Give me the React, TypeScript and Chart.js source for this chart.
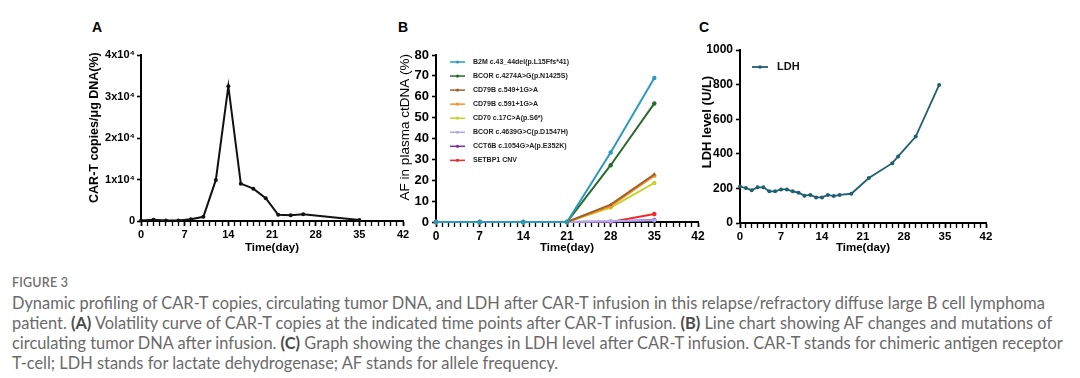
import React, { useEffect, useRef } from 'react';
import { Chart, registerables } from 'chart.js';

Chart.register(...registerables);

const SANS = '"Liberation Sans", Arial, Helvetica, sans-serif';

// ---------- shared axis data ----------
const dayMax = 42;
const dayStep = 7;

// ---------- Panel A: CAR-T copies ----------
const carDays = [0, 2, 4, 6, 8, 10, 12, 14, 16, 18, 20, 22, 24, 26, 35];
const carCopies = [100, 300, 150, 100, 400, 1000, 9900, 32500, 9000, 7800, 5500, 1500, 1400, 1600, 250];
const carTickValues = [0, 10000, 20000, 30000, 40000];
const carTickLabels = ['0', '1x10⁴', '2x10⁴', '3x10⁴', '4x10⁴'];

// ---------- Panel B: AF in plasma ctDNA ----------
const afDays = [0, 7, 14, 21, 28, 35];
const mutationNames = [
  'B2M c.43_44del(p.L15Ffs*41)',
  'BCOR c.4274A>G(p.N1425S)',
  'CD79B c.549+1G>A',
  'CD79B c.591+1G>A',
  'CD70 c.17C>A(p.S6*)',
  'BCOR c.4639G>C(p.D1547H)',
  'CCT6B c.1054G>A(p.E352K)',
  'SETBP1 CNV',
];
const afB2M = [0, 0, 0, 0, 33.3, 69.0];
const afBCOR4274 = [0, 0, 0, 0, 27.2, 56.8];
const afCD79B549 = [0, 0, 0, 0, 8.3, 22.9];
const afCD79B591 = [0, 0, 0, 0, 7.6, 22.2];
const afCD70 = [0, 0, 0, 0, 6.9, 18.7];
const afBCOR4639 = [0, 0, 0, 0, 0.3, 0.8];
const afCCT6B = [0, 0, 0, 0, 0.2, 1.0];
const afSETBP1 = [0, 0, 0, 0, 0, 3.8];
const mutationColors = ['#2b9ac0', '#2a6a2a', '#a0612a', '#f3922e', '#c9d12f', '#b0a8ec', '#7b2fa6', '#ee2a2a'];
const mutationStyles = ['circle', 'circle', 'triangle', 'circle', 'circle', 'circle', 'circle', 'star'];

// ---------- Panel C: LDH ----------
const ldhDays = [0, 1, 2, 3, 4, 5, 6, 7, 8, 9, 10, 11, 12, 13, 14, 15, 16, 17, 19, 22, 26, 27, 30, 34];
const ldhValues = [211, 202, 190, 206, 206, 183, 183, 194, 194, 183, 175, 158, 162, 148, 148, 162, 156, 162, 169, 260, 346, 385, 500, 798];
const ldhColor = '#1f6070';

// ---------- caption ----------
const figureLabel = 'FIGURE 3';
const captionLines: Array<Array<[string, boolean]>> = [
  [['Dynamic profiling of CAR-T copies, circulating tumor DNA, and LDH after CAR-T infusion in this relapse/refractory diffuse large B cell lymphoma', false]],
  [['patient. ', false], ['(A)', true], [' Volatility curve of CAR-T copies at the indicated time points after CAR-T infusion. ', false], ['(B)', true], [' Line chart showing AF changes and mutations of', false]],
  [['circulating tumor DNA after infusion. ', false], ['(C)', true], [' Graph showing the changes in LDH level after CAR-T infusion. CAR-T stands for chimeric antigen receptor', false]],
  [['T-cell; LDH stands for lactate dehydrogenase; AF stands for allele frequency.', false]],
];

type Geom = { left: number; top: number; width: number; height: number; area: { l: number; t: number; r: number; b: number } };

const geomA: Geom = { left: 83, top: 30, width: 333, height: 229, area: { l: 141, t: 55, r: 403, b: 221 } };
const geomB: Geom = { left: 393, top: 30, width: 322, height: 229, area: { l: 436, t: 55, r: 698, b: 222 } };
const geomC: Geom = { left: 696, top: 30, width: 304, height: 229, area: { l: 740, t: 50, r: 986, b: 223 } };

const insideLegend = {
  id: 'insideLegend',
  afterDatasetsDraw(chart: any, _args: any, opts: any) {
    if (!opts || !opts.display) return;
    const { ctx, chartArea } = chart;
    ctx.save();
    ctx.font = opts.font;
    ctx.textBaseline = 'middle';
    ctx.textAlign = 'left';
    chart.data.datasets.forEach((ds: any, i: number) => {
      const y = chartArea.top + opts.top + i * opts.rowHeight;
      const x0 = chartArea.left + opts.left;
      ctx.strokeStyle = ds.borderColor;
      ctx.lineWidth = opts.lineWidth;
      ctx.beginPath();
      ctx.moveTo(x0, y);
      ctx.lineTo(x0 + opts.lineLength, y);
      ctx.stroke();
      ctx.fillStyle = ds.borderColor;
      ctx.beginPath();
      ctx.arc(x0 + opts.lineLength / 2, y, opts.dot, 0, Math.PI * 2);
      ctx.fill();
      ctx.fillStyle = opts.color;
      ctx.fillText(ds.label, x0 + opts.lineLength + opts.gap, y);
    });
    ctx.restore();
  },
};

function xScale(g: Geom, fontSize: number) {
  const xH = g.top + g.height - g.area.b;
  return {
    type: 'linear',
    min: 0,
    max: dayMax,
    afterFit: (s: any) => {
      s.height = xH;
    },
    border: { display: true, color: '#000', width: 2 },
    grid: {
      display: true,
      drawOnChartArea: false,
      drawTicks: true,
      tickLength: 5,
      tickColor: '#000',
      tickWidth: (c: any) => (c.tick && c.tick.value % dayStep === 0 ? 1.8 : 1.3),
    },
    ticks: {
      stepSize: 1,
      autoSkip: false,
      maxRotation: 0,
      minRotation: 0,
      padding: 2,
      color: '#000',
      font: { family: SANS, size: fontSize, weight: 'bold' },
      callback: (v: any) => (Number(v) % dayStep === 0 ? String(v) : ''),
    },
    title: {
      display: true,
      text: 'Time(day)',
      color: '#000',
      font: { family: SANS, size: 11.5, weight: 'bold' },
      padding: { top: 0, bottom: 4 },
    },
  };
}

function yScale(g: Geom, o: any) {
  const yW = g.area.l - g.left;
  return {
    type: 'linear',
    min: o.min,
    max: o.max,
    afterFit: (s: any) => {
      s.width = yW;
    },
    border: { display: true, color: '#000', width: 2 },
    grid: { display: true, drawOnChartArea: false, drawTicks: true, tickLength: 4, tickColor: '#000', tickWidth: 1.6 },
    ticks: {
      stepSize: o.step,
      padding: o.pad,
      color: '#000',
      font: { family: SANS, size: o.tickSize, weight: 'bold' },
      callback: o.callback,
    },
    title: {
      display: true,
      // leading spaces lift the rotated title slightly above the axis centre, as in the figure
      text: ' '.repeat(o.lift) + o.title,
      color: '#000',
      font: { family: SANS, size: o.titleSize, weight: o.titleWeight },
      padding: { top: 4, bottom: 0 },
    },
  };
}

function baseOptions(g: Geom, x: any, y: any, legend: any) {
  return {
    responsive: false,
    maintainAspectRatio: false,
    animation: false,
    layout: { padding: { top: g.area.t - g.top, right: g.left + g.width - g.area.r, left: 0, bottom: 0 } },
    plugins: { legend: { display: false }, tooltip: { enabled: false }, insideLegend: legend },
    scales: { x, y },
  };
}

function buildA(g: Geom) {
  return {
    type: 'line',
    data: {
      datasets: [
        {
          label: 'CAR-T copies',
          data: carDays.map((d, i) => ({ x: d, y: carCopies[i] })),
          borderColor: '#111',
          backgroundColor: '#111',
          borderWidth: 2,
          pointRadius: 2,
          pointBorderWidth: 0,
          tension: 0,
          clip: false,
        },
      ],
    },
    options: baseOptions(
      g,
      xScale(g, 11),
      yScale(g, {
        min: 0,
        max: 40000,
        step: 10000,
        pad: 2,
        tickSize: 11,
        title: 'CAR-T copies/μg DNA(%)',
        titleSize: 12.5,
        titleWeight: 'bold',
        lift: 6,
        callback: (v: any) => {
          const i = carTickValues.indexOf(Number(v));
          return i >= 0 ? carTickLabels[i] : '';
        },
      }),
      { display: false }
    ),
    plugins: [insideLegend],
  };
}

function buildB(g: Geom) {
  const series = [afB2M, afBCOR4274, afCD79B549, afCD79B591, afCD70, afBCOR4639, afCCT6B, afSETBP1];
  return {
    type: 'line',
    data: {
      datasets: series.map((vals, k) => ({
        label: mutationNames[k],
        data: afDays.map((d, i) => ({ x: d, y: vals[i] })),
        borderColor: mutationColors[k],
        backgroundColor: mutationColors[k],
        borderWidth: 2,
        pointRadius: 2.2,
        pointStyle: mutationStyles[k],
        pointBorderWidth: mutationStyles[k] === 'star' ? 1.5 : 0,
        tension: 0,
        clip: false,
      })),
    },
    options: baseOptions(
      g,
      xScale(g, 12),
      yScale(g, {
        min: 0,
        max: 80,
        step: 10,
        pad: 3,
        tickSize: 13,
        title: 'AF in plasma ctDNA (%)',
        titleSize: 13.5,
        titleWeight: 'normal',
        lift: 6,
        callback: (v: any) => String(v),
      }),
      { display: true, font: `bold 7px ${SANS}`, color: '#222', left: 14, top: 7, rowHeight: 14.05, lineLength: 15, gap: 8, lineWidth: 1.5, dot: 1.6 }
    ),
    plugins: [insideLegend],
  };
}

function buildC(g: Geom) {
  return {
    type: 'line',
    data: {
      datasets: [
        {
          label: 'LDH',
          data: ldhDays.map((d, i) => ({ x: d, y: ldhValues[i] })),
          borderColor: ldhColor,
          backgroundColor: ldhColor,
          borderWidth: 1.8,
          pointRadius: 2,
          pointBorderWidth: 0,
          tension: 0,
          clip: false,
        },
      ],
    },
    options: baseOptions(
      g,
      xScale(g, 11.5),
      yScale(g, {
        min: 0,
        max: 1000,
        step: 200,
        pad: 3,
        tickSize: 12,
        title: 'LDH level (U/L)',
        titleSize: 13,
        titleWeight: 'bold',
        lift: 8,
        callback: (v: any) => String(v),
      }),
      { display: true, font: `bold 11px ${SANS}`, color: '#111', left: 12, top: 17, rowHeight: 14, lineLength: 16, gap: 9, lineWidth: 1.8, dot: 1.8 }
    ),
    plugins: [insideLegend],
  };
}

function ChartPanel({ geom, build }: { geom: Geom; build: (g: Geom) => any }) {
  const ref = useRef<HTMLCanvasElement | null>(null);
  useEffect(() => {
    if (!ref.current) return;
    const chart = new Chart(ref.current, build(geom) as any);
    return () => chart.destroy();
  }, []);
  return (
    <canvas
      ref={ref}
      width={geom.width}
      height={geom.height}
      style={{ position: 'absolute', left: geom.left, top: geom.top, width: geom.width, height: geom.height }}
    />
  );
}

const panelLetter = (left: number): React.CSSProperties => ({
  position: 'absolute',
  left,
  top: 20,
  font: `bold 14px ${SANS}`,
  lineHeight: '14px',
  color: '#000',
});

export default function App() {
  return (
    <div style={{ position: 'absolute', left: 0, top: 0, width: 1080, height: 378, background: '#fff', overflow: 'hidden' }}>
      <div style={panelLetter(92)}>A</div>
      <div style={panelLetter(398)}>B</div>
      <div style={panelLetter(699)}>C</div>
      <ChartPanel geom={geomA} build={buildA} />
      <ChartPanel geom={geomB} build={buildB} />
      <ChartPanel geom={geomC} build={buildC} />
      <div
        style={{
          position: 'absolute',
          left: 12,
          top: 275,
          font: `600 12.5px Lato, "Open Sans", sans-serif`,
          lineHeight: '16px',
          color: '#6f6f6f',
          letterSpacing: '0.2px',
        }}
      >
        {figureLabel}
      </div>
      {captionLines.map((parts, li) => (
        <div
          key={li}
          style={{
            position: 'absolute',
            left: 12,
            top: 293 + li * 20,
            font: `400 16.4px Lato, "Open Sans", sans-serif`,
            lineHeight: '20px',
            color: '#6a6a6a',
            whiteSpace: 'nowrap',
          }}
        >
          {parts.map(([t, b], k) =>
            b ? (
              <span key={k} style={{ fontWeight: 700, color: '#4a4a4a' }}>
                {t}
              </span>
            ) : (
              <span key={k}>{t}</span>
            )
          )}
        </div>
      ))}
    </div>
  );
}
